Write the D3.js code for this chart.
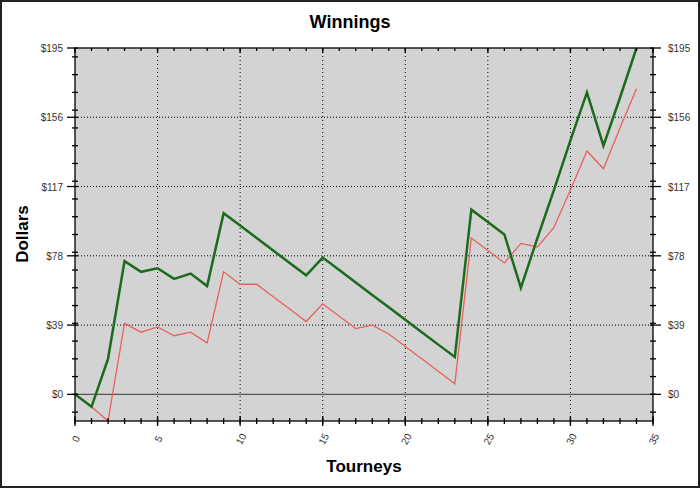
<!DOCTYPE html>
<html>
<head>
<meta charset="utf-8">
<script src="https://cdn.jsdelivr.net/npm/d3@7"></script>
<style>
  body { margin: 0; background: #fff; }
  svg { display: block; font-family: "Liberation Sans", Arial, sans-serif; }
</style>
</head>
<body>
<div id="chart"></div>
<script>
// tourney index and cumulative winnings
var tourneys = d3.range(0, 35);
var totalWin = [0, -7, 20, 75, 69, 71, 65, 68, 61, 102, 95, 88, 81, 74, 67, 77, 70, 63, 56, 49, 42, 35, 28, 21, 104, 97, 90, 60, 88, 115, 143, 170, 140, 167, 195];
var netWin = [0, -7, -15, 40, 35, 38, 33, 35, 29, 69, 62, 62, 55, 48, 41, 51, 44, 37, 39, 34, 27, 20, 13, 6, 88, 81, 74, 85, 83, 94, 115, 137, 127, 150, 172];
var yTickVals = [0, 39, 78, 117, 156, 195];
var xTickVals = [0, 5, 10, 15, 20, 25, 30, 35];

var W = 700, H = 488;
var margin = {top: 48, right: 47, bottom: 67, left: 75};

var svg = d3.select("#chart").append("svg")
  .attr("width", W)
  .attr("height", H);

svg.append("rect")
  .attr("x", 1).attr("y", 1)
  .attr("width", W - 2).attr("height", H - 2)
  .style("fill", "#fff")
  .style("stroke", "#222")
  .style("stroke-width", 2);

var x = d3.scaleLinear().domain([0, 35]).range([margin.left, W - margin.right]);
var y = d3.scaleLinear().domain([-15, 195]).range([H - margin.bottom, margin.top]);

// plot background
svg.append("rect")
  .attr("x", x(0)).attr("y", y(195))
  .attr("width", x(35) - x(0)).attr("height", y(-15) - y(195))
  .style("fill", "#d3d3d3");

// dotted grid
svg.selectAll(".hgrid")
  .data(yTickVals.filter(function(d){ return d > 0 && d < 195 }))
  .enter().append("line")
  .attr("x1", x(0)).attr("x2", x(35))
  .attr("y1", function(d){ return y(d) }).attr("y2", function(d){ return y(d) })
  .style("stroke", "#000").style("stroke-width", 1)
  .style("stroke-dasharray", "1,2");
svg.selectAll(".vgrid")
  .data(xTickVals.filter(function(d){ return d > 0 && d < 35 }))
  .enter().append("line")
  .attr("x1", function(d){ return x(d) }).attr("x2", function(d){ return x(d) })
  .attr("y1", y(195)).attr("y2", y(-15))
  .style("stroke", "#000").style("stroke-width", 1)
  .style("stroke-dasharray", "1,3");

// zero line
svg.append("line")
  .attr("x1", x(0)).attr("x2", x(35))
  .attr("y1", y(0)).attr("y2", y(0))
  .style("stroke", "#555").style("stroke-width", 1.2);

// lines
var line = d3.line()
  .x(function(d, i){ return x(tourneys[i]) })
  .y(function(d){ return y(d) });

svg.append("path").datum(netWin)
  .attr("d", line)
  .style("fill", "none").style("stroke", "#e8625c").style("stroke-width", 1.3);
svg.append("path").datum(totalWin)
  .attr("d", line)
  .style("fill", "none").style("stroke", "#1c6b1c").style("stroke-width", 2.5);

// axes frame
var fmt = function(d){ return "$" + d };
var minorY = d3.range(-10, 195, 10);
var minorX = d3.range(0, 36, 1);

function tickLines(data, cls, fn) {
  svg.selectAll("." + cls).data(data).enter().append("line")
    .attr("class", cls)
    .each(fn)
    .style("stroke", "#000").style("stroke-width", 1.3);
}

// left & right minor/major ticks
tickLines(minorY, "ylm", function(d){
  d3.select(this).attr("x1", x(0) - 3).attr("x2", x(0) + 3).attr("y1", y(d)).attr("y2", y(d));
});
tickLines(minorY, "yrm", function(d){
  d3.select(this).attr("x1", x(35) - 3).attr("x2", x(35) + 3).attr("y1", y(d)).attr("y2", y(d));
});
tickLines(yTickVals, "ylM", function(d){
  d3.select(this).attr("x1", x(0) - 8).attr("x2", x(0) + 3).attr("y1", y(d)).attr("y2", y(d));
});
tickLines(yTickVals, "yrM", function(d){
  d3.select(this).attr("x1", x(35) - 3).attr("x2", x(35) + 8).attr("y1", y(d)).attr("y2", y(d));
});
// bottom & top ticks
tickLines(minorX, "xbm", function(d){
  d3.select(this).attr("x1", x(d)).attr("x2", x(d)).attr("y1", y(-15) - 3).attr("y2", y(-15) + 3);
});
tickLines(minorX, "xtm", function(d){
  d3.select(this).attr("x1", x(d)).attr("x2", x(d)).attr("y1", y(195)).attr("y2", y(195) + 3);
});
tickLines(xTickVals, "xbM", function(d){
  d3.select(this).attr("x1", x(d)).attr("x2", x(d)).attr("y1", y(-15) - 5).attr("y2", y(-15) + 5);
});
tickLines(xTickVals, "xtM", function(d){
  d3.select(this).attr("x1", x(d)).attr("x2", x(d)).attr("y1", y(195)).attr("y2", y(195) + 5);
});

svg.append("rect")
  .attr("x", x(0)).attr("y", y(195))
  .attr("width", x(35) - x(0)).attr("height", y(-15) - y(195))
  .style("fill", "none").style("stroke", "#000").style("stroke-width", 1.3);

// tick labels
svg.selectAll(".ylab").data(yTickVals).enter().append("text")
  .attr("x", x(0) - 12).attr("y", function(d){ return y(d) + 4 })
  .attr("text-anchor", "end")
  .style("font-size", "10px").style("fill", "#333")
  .text(fmt);
svg.selectAll(".yrlab").data(yTickVals).enter().append("text")
  .attr("x", x(35) + 15).attr("y", function(d){ return y(d) + 4 })
  .attr("text-anchor", "start")
  .style("font-size", "10px").style("fill", "#333")
  .text(fmt);
svg.selectAll(".xlab").data(xTickVals).enter().append("text")
  .attr("transform", function(d){ return "translate(" + (x(d) + 1) + "," + (y(-15) + 18) + ") rotate(-62)" })
  .attr("text-anchor", "middle")
  .attr("dy", "0.35em")
  .style("font-size", "10px").style("fill", "#333")
  .text(function(d){ return d });

// titles
svg.append("text")
  .attr("x", 350).attr("y", 28)
  .attr("text-anchor", "middle")
  .style("font-size", "18px").style("font-weight", "bold")
  .text("Winnings");
svg.append("text")
  .attr("x", 364).attr("y", 472)
  .attr("text-anchor", "middle")
  .style("font-size", "17px").style("font-weight", "bold")
  .text("Tourneys");
svg.append("text")
  .attr("transform", "translate(28,234) rotate(-90)")
  .attr("text-anchor", "middle")
  .style("font-size", "17px").style("font-weight", "bold")
  .text("Dollars");
</script>
</body>
</html>
